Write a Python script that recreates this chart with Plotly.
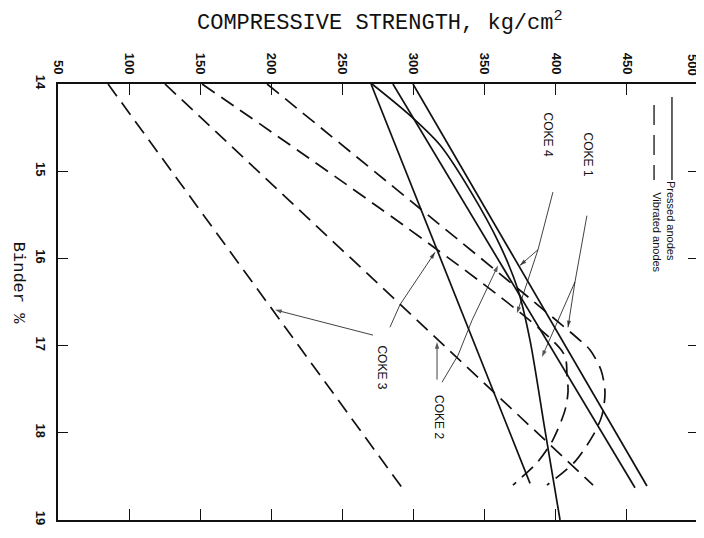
import plotly.graph_objects as go

# ---- data (strength kg/cm2 vs binder %) ----
# Vibrated anodes (dashed)
vib_coke3_strength = [85.2, 291.9]
vib_coke3_binder = [14.00, 18.63]
vib_coke2_strength = [125.2, 426.2]
vib_coke2_binder = [14.00, 18.60]
vib_coke4_strength = [151.3, 405.1, 407.9, 408.6, 406.5, 398.0, 387.5, 369.9]
vib_coke4_binder = [14.00, 17.08, 17.34, 17.53, 17.74, 18.08, 18.33, 18.60]
vib_coke1_strength = [197.0, 414.9, 424.1, 431.8, 434.6, 432.5, 426.2, 413.5, 393.8]
vib_coke1_binder = [14.00, 16.91, 17.05, 17.28, 17.53, 17.80, 18.03, 18.33, 18.60]

# Pressed anodes (solid)
pre_coke3_strength = [270.1, 381.9]
pre_coke3_binder = [14.00, 18.58]
pre_coke2_strength = [285.5, 455.7]
pre_coke2_binder = [14.00, 18.63]
pre_coke4_strength = [270.8, 296.1, 318.6, 339.7, 360.8, 373.4, 381.9, 392.4, 403.0]
pre_coke4_binder = [14.00, 14.34, 14.70, 15.22, 15.85, 16.36, 16.94, 17.97, 19.00]
pre_coke1_strength = [299.6, 464.1]
pre_coke1_binder = [14.00, 18.61]

x_ticks = [50, 100, 150, 200, 250, 300, 350, 400, 450, 500]
y_ticks = [14, 15, 16, 17, 18, 19]

INK = "#111111"
DASH = "15px,8px"

fig = go.Figure()

def add(xs, ys, dashed, smooth=False):
    fig.add_trace(go.Scatter(
        x=xs, y=ys, mode="lines", showlegend=False, hoverinfo="skip",
        line=dict(color=INK, width=1.7, dash=DASH if dashed else "solid",
                  shape="spline" if smooth else "linear", smoothing=0.8)))

add(vib_coke3_strength, vib_coke3_binder, True)
add(vib_coke2_strength, vib_coke2_binder, True)
add(vib_coke4_strength, vib_coke4_binder, True, True)
add(vib_coke1_strength, vib_coke1_binder, True, True)
add(pre_coke3_strength, pre_coke3_binder, False)
add(pre_coke2_strength, pre_coke2_binder, False)
add(pre_coke4_strength, pre_coke4_binder, False, True)
add(pre_coke1_strength, pre_coke1_binder, False)

# ---- labels ----
label_font = dict(family="Liberation Sans, Arial", size=12, color=INK)
labels = [("COKE 1", 422.7, 14.81), ("COKE 4", 394.5, 14.58),
          ("COKE 3", 277.8, 17.25), ("COKE 2", 317.9, 17.82)]
for t, lx, ly in labels:
    fig.add_annotation(x=lx, y=ly, text=t, showarrow=False, textangle=90,
                       font=label_font, xanchor="center", yanchor="middle")

# leader lines from the labels, ending in an arrowhead
leaders = [
    [(271.5, 16.88), (202.6, 16.59)],
    [(283.4, 16.79), (290.5, 16.53), (315.1, 15.93)],
    [(316.5, 17.39), (316.5, 16.96)],
    [(320.0, 17.42), (331.3, 17.11), (341.1, 16.71), (359.4, 16.08)],
    [(398.0, 15.24), (387.5, 15.90), (374.8, 16.08)],
    [(387.5, 15.90), (372.7, 16.63)],
    [(421.9, 15.51), (413.5, 16.27), (408.6, 16.79)],
    [(413.5, 16.27), (390.3, 17.13)],
]
for pts in leaders:
    n = len(pts)
    fig.add_trace(go.Scatter(
        x=[p[0] for p in pts], y=[p[1] for p in pts], mode="lines+markers",
        showlegend=False, hoverinfo="skip",
        line=dict(color=INK, width=0.8),
        marker=dict(symbol=["circle"] * (n - 1) + ["arrow"], size=[0] * (n - 1) + [7],
                    angleref="previous", color=INK, line=dict(width=0))))

# ---- legend (rotated) ----
fig.add_shape(type="line", x0=481.7, x1=481.7, y0=14.15, y1=15.10, xref="x", yref="y",
              line=dict(color=INK, width=1.3))
fig.add_shape(type="line", x0=469.1, x1=469.1, y0=14.24, y1=15.10, xref="x", yref="y",
              line=dict(color=INK, width=1.3, dash="20px,10px"))
fig.add_annotation(x=481.0, y=15.57, text="Pressed anodes", showarrow=False, textangle=90,
                   font=dict(family="Liberation Sans, Arial", size=11, color=INK))
fig.add_annotation(x=471.2, y=15.70, text="Vibrated anodes", showarrow=False, textangle=90,
                   font=dict(family="Liberation Sans, Arial", size=11, color=INK))

# ---- titles ----
mono = "Liberation Mono, Courier New, monospace"
fig.add_annotation(x=0.503, y=1, xref="paper", yref="paper", yshift=46,
                   text="COMPRESSIVE STRENGTH, kg/cm<sup>2</sup>", showarrow=False,
                   font=dict(family=mono, size=22, color=INK),
                   xanchor="center", yanchor="bottom")
fig.add_annotation(x=0, y=0.544, xref="paper", yref="paper", xshift=-40,
                   text="Binder %", showarrow=False, textangle=90,
                   xanchor="center", yanchor="middle",
                   font=dict(family=mono, size=17, color=INK))

tick_font = dict(family="Liberation Sans, Arial", size=13, color=INK, weight="bold")
# last tick label sits at the page edge: draw it slightly inward as an annotation
x_ticktext = [str(v) for v in x_ticks[:-1]] + [""]
fig.add_annotation(x=x_ticks[-1], y=1, xref="x", yref="paper", xshift=-5, yshift=6,
                   text=str(x_ticks[-1]), showarrow=False, textangle=90,
                   xanchor="center", yanchor="bottom", font=tick_font)

fig.update_xaxes(range=[50, 500], side="top", tickvals=x_ticks, ticktext=x_ticktext,
                 tickangle=90, ticks="inside", ticklen=11, tickwidth=1.4, tickcolor=INK,
                 showline=True, linecolor=INK, linewidth=1.8, mirror="ticks",
                 showgrid=False, zeroline=False, tickfont=tick_font, automargin=False,
                 ticklabeloverflow="allow", ticklabelstandoff=3)
fig.update_yaxes(range=[19, 14], tickvals=y_ticks, ticktext=[str(v) for v in y_ticks],
                 tickangle=90, ticks="inside", ticklen=10, tickwidth=1.4, tickcolor=INK,
                 showline=True, linecolor=INK, linewidth=1.8, mirror="ticks",
                 showgrid=False, zeroline=False, tickfont=tick_font, automargin=False,
                 ticklabeloverflow="allow", ticklabelstandoff=4)

# the page body adds an 8px offset; margins are chosen so the plot box lands at 58..698 x 84..520
fig.update_layout(width=696, height=522, margin=dict(l=50, r=6, t=76, b=10),
                  paper_bgcolor="white", plot_bgcolor="white", showlegend=False)

fig.write_html("out.html")
